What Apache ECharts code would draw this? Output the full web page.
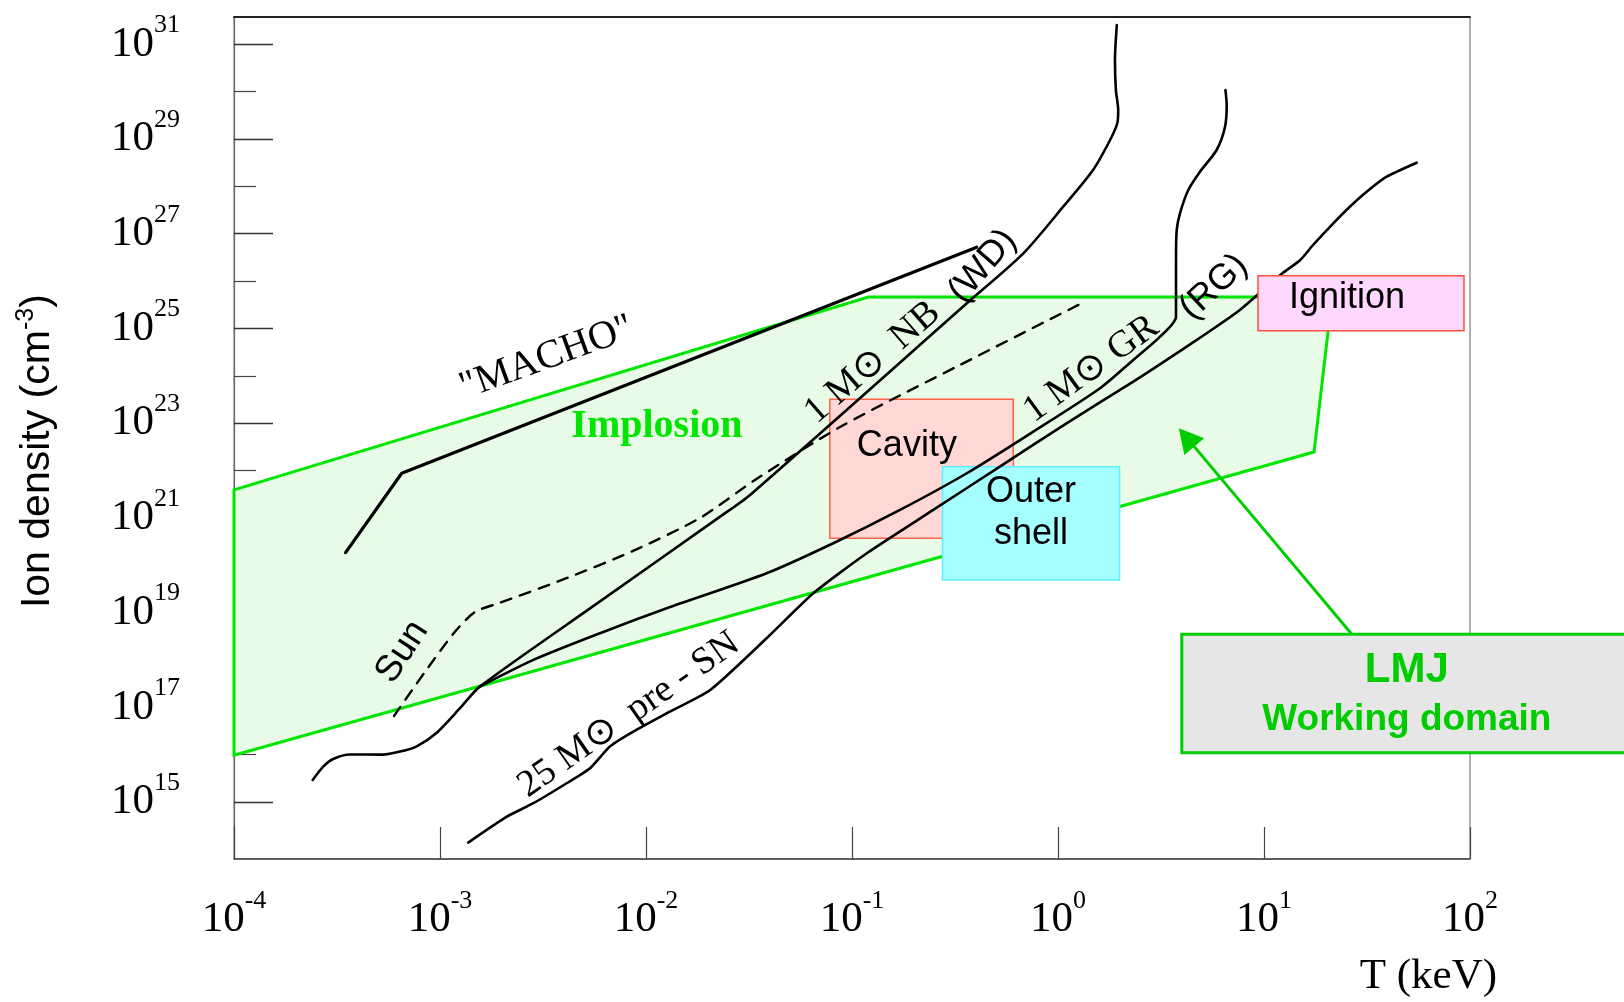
<!DOCTYPE html>
<html>
<head>
<meta charset="utf-8">
<script src="https://cdn.jsdelivr.net/npm/echarts@6.0.0/dist/echarts.min.js"></script>
<style>
html, body { margin: 0; padding: 0; background: #fff; }
#chart { width: 1624px; height: 1002px; }
</style>
</head>
<body>
<div id="chart"></div>
<script>
// ---- data: [T (keV), ion density (cm^-3)] ----
const machoCurve = [[3.48e-4, 1.84e20], [6.52e-4, 8.75e21], [0.403, 5.18e26]];

const implosionDomain = [[1e-4, 3.9e21], [0.12, 4.6e25], [21.4, 4.6e25], [17.5, 2.46e22], [1e-4, 9.7e15]];

const sunCurve = [
  [5.98e-4, 6.56e16], [8.45e-4, 5.57e17], [1.18e-3, 3.9e18], [1.48e-3, 1.03e19],
  [1.95e-3, 1.6e19], [4.14e-3, 5.38e19], [8.65e-3, 2.0e20], [1.83e-2, 9.95e20],
  [3.38e-2, 6.31e21], [8.75e-2, 8.3e22], [0.334, 1.69e24], [1.35, 3.67e25]
];

const wdCurve = [
  [2.41e-4, 2.92e15], [2.71e-4, 5.58e15], [3.03e-4, 8.11e15], [3.66e-4, 1.01e16],
  [5.29e-4, 1.0e16], [6.40e-4, 1.16e16], [7.71e-4, 1.5e16], [9.64e-4, 2.91e16],
  [1.25e-3, 9.55e16], [1.56e-3, 2.73e17], [5.98e-3, 1.72e19], [2.29e-2, 1.06e21],
  [3.2e-2, 3.05e21], [0.361, 3.4e25], [0.679, 3.86e26], [1.06, 3.72e27],
  [1.48, 2.22e28], [1.79, 9.53e28], [1.94, 2.15e29], [1.96, 4.1e29],
  [1.91, 1.08e30], [1.89, 4.66e30], [1.93, 2.56e31]
];

const grCurve = [
  [1.56e-3, 2.73e17], [2.84e-3, 1.0e18], [5.98e-3, 3.66e18], [1.26e-2, 1.23e19],
  [3.85e-2, 6.76e19], [8.11e-2, 2.91e20], [0.171, 1.47e21], [0.361, 8.75e21],
  [0.759, 6.61e22], [1.6, 5.45e23], [2.32, 2.16e24], [3.13, 6.7e24],
  [3.74, 1.77e25], [3.74, 2.79e26], [3.77, 1.2e27], [3.91, 2.7e27],
  [4.29, 8.39e27], [4.89, 2.04e28], [5.89, 5.86e28], [6.47, 1.82e29],
  [6.59, 5.22e29], [6.5, 1.08e30]
];

const preSnCurve = [
  [1.37e-3, 1.39e14], [2.11e-3, 4.91e14], [2.84e-3, 9.42e14], [4.12e-3, 2.49e15],
  [5.35e-3, 5.16e15], [6.68e-3, 1.48e16], [8.67e-3, 3.06e16], [1.26e-2, 7.48e16],
  [2.05e-2, 2.32e17], [3.85e-2, 2.87e18], [6.49e-2, 2.56e19], [0.118, 1.79e20],
  [0.248, 1.47e21], [0.522, 1.21e22], [1.1, 9.93e22], [2.32, 7.52e23],
  [3.37, 2.16e24], [5.27, 7.91e24], [7.64, 2.45e25], [12.0, 1.35e26],
  [15.0, 2.79e26], [17.3, 5.78e26], [21.7, 1.66e27], [26.1, 3.72e27],
  [31.5, 7.72e27], [39.4, 1.6e28], [55.1, 3.16e28]
];

// experimental regions: T range (keV), density range (cm^-3)
const regionNames = ['Cavity', 'Outer\nshell', 'Ignition'];
const regionT = [[0.078, 0.607], [0.275, 1.99], [9.35, 93.5]];
const regionN = [[3.7e20, 3.19e23], [4.9e19, 1.2e22], [8.97e24, 1.3e26]];

// LMJ call-out box and its pointer
const lmjTitle = 'LMJ';
const lmjSubtitle = 'Working domain';
const lmjBoxT = [3.99, 611];
const lmjBoxN = [1.1e16, 3.48e18];
const arrowFrom = [26.7, 3.48e18];
const arrowTo = [3.86, 7.8e22];

// curve captions and where they sit
const labelTexts = ['"MACHO"', 'Implosion', '1 M\u2299  NB', '(WD)', '1 M\u2299 GR', '(RG)', '25 M\u2299  pre - SN', 'Sun'];
const labelAnchors = [
  [3.3e-3, 2.38e24], [1.13e-2, 8.3e22], [0.126, 1.91e24], [0.431, 2.08e26],
  [1.45, 1.39e24], [5.71, 7.5e25], [8.26e-3, 6.89e16], [6.55e-4, 1.48e18]
];

// tick labels (powers of ten)
const xTickExponents = [-4, -3, -2, -1, 0, 1, 2];
const yTickExponents = [15, 17, 19, 21, 23, 25, 27, 29, 31];

// ---- layout & styles ----
const SERIF = '"Liberation Serif", "Times New Roman", serif';
const SANS = '"Liberation Sans", Arial, sans-serif';
const frame = { left: 234, right: 1470, top: 17, bottom: 859 };
const tickTop = 44.3;     // pixel row of 10^31
const tickBottom = 802;   // pixel row of 10^15
const decadePx = (tickBottom - tickTop) / 16;
const yMaxExp = 31 + (tickTop - frame.top) / decadePx;
const yMinExp = 15 - (frame.bottom - tickBottom) / decadePx;

const labelLook = [
  { family: SERIF, size: 40, weight: 'normal', angle: 20, color: '#000' },
  { family: SERIF, size: 40, weight: 'bold', angle: 0, color: '#00e600' },
  { family: SERIF, size: 38, weight: 'normal', angle: 41, color: '#000' },
  { family: SANS, size: 36, weight: 'normal', angle: 49, color: '#000' },
  { family: SERIF, size: 38, weight: 'normal', angle: 36, color: '#000' },
  { family: SANS, size: 36, weight: 'normal', angle: 43, color: '#000' },
  { family: SERIF, size: 38, weight: 'normal', angle: 35, color: '#000' },
  { family: SANS, size: 37, weight: 'normal', angle: 57, color: '#000' }
];

const regionLook = [
  { fill: '#ffd7d5', stroke: '#ff6347', tx: 0.42, ty: 47 },
  { fill: '#a6ffff', stroke: '#5ef0ff', tx: 0.5, ty: 46.5 },
  { fill: '#fdd7fd', stroke: '#ff5040', tx: 0.432, ty: 22 }
];

const powLabel = e => '{b|10}{s|' + e + '}';
const tickRich = {
  b: { fontFamily: SERIF, fontSize: 43, lineHeight: 64, color: '#000' },
  s: { fontFamily: SERIF, fontSize: 26, lineHeight: 26, verticalAlign: 'top', color: '#000' }
};

function rectOf(api, tRange, nRange) {
  const p0 = api.coord([tRange[0], nRange[1]]);
  const p1 = api.coord([tRange[1], nRange[0]]);
  return { x: p0[0], y: p0[1], width: p1[0] - p0[0], height: p1[1] - p0[1] };
}

function regionSeries(indices, z) {
  return {
    type: 'custom', coordinateSystem: 'cartesian2d', xAxisIndex: 0, yAxisIndex: 0,
    z: z, clip: false, silent: true,
    data: indices.map(i => [regionT[i][0], regionN[i][0]]),
    renderItem: (params, api) => {
      const i = indices[params.dataIndex];
      const look = regionLook[i];
      const r = rectOf(api, regionT[i], regionN[i]);
      return {
        type: 'group',
        children: [
          { type: 'rect', shape: r, style: { fill: look.fill, stroke: look.stroke, lineWidth: 1.5 } },
          {
            type: 'text', x: r.x + r.width * look.tx, y: r.y + look.ty,
            style: {
              text: regionNames[i], fontFamily: SANS, fontSize: 36, lineHeight: 42,
              fill: '#000', align: 'center', verticalAlign: 'middle'
            }
          }
        ]
      };
    }
  };
}

function curve(data, width, dashed, smooth) {
  return {
    type: 'line', xAxisIndex: 0, yAxisIndex: 0, z: 3, data: data,
    showSymbol: false, symbol: 'none', smooth: smooth, silent: true,
    lineStyle: { color: '#000', width: width, type: dashed ? [11, 9] : 'solid', cap: 'round', join: 'round' }
  };
}

const chart = echarts.init(document.getElementById('chart'), null, { renderer: 'canvas' });

chart.setOption({
  animation: false,
  backgroundColor: '#fff',
  grid: [
    {
      left: frame.left, top: frame.top, right: 1624 - frame.right, bottom: 1002 - frame.bottom,
      show: true, borderColor: '#666', borderWidth: 1, containLabel: false, outerBoundsMode: 'none'
    },
    {
      left: frame.left, top: tickTop, right: 1624 - frame.right, bottom: 1002 - tickBottom,
      show: false, containLabel: false, outerBoundsMode: 'none'
    }
  ],
  xAxis: [
    {
      type: 'log', gridIndex: 0, logBase: 10, min: 1e-4, max: 100, splitNumber: 6,
      axisLine: { show: true, onZero: false, lineStyle: { color: '#444', width: 1.5 } },
      axisTick: { show: true, inside: true, length: 32, lineStyle: { color: '#444', width: 1.2 } },
      axisLabel: {
        show: true, margin: 29, showMinLabel: true, showMaxLabel: true,
        formatter: v => {
          const e = Math.round(Math.log10(v));
          return xTickExponents.includes(e) ? powLabel(e) : '';
        },
        rich: tickRich
      },
      splitLine: { show: false },
      name: 'T (keV)', nameLocation: 'end', nameGap: 27,
      nameTextStyle: {
        fontFamily: SERIF, fontSize: 43, color: '#000',
        align: 'right', verticalAlign: 'top', padding: [96, 0, 0, 0]
      }
    },
    {
      type: 'value', gridIndex: 1, min: 0, max: 1, show: false
    },
    {
      type: 'log', gridIndex: 0, logBase: 10, min: 1e-4, max: 100, position: 'top',
      axisLine: { show: true, onZero: false, lineStyle: { color: '#222', width: 2 } },
      axisTick: { show: false }, axisLabel: { show: false }, splitLine: { show: false }
    }
  ],
  yAxis: [
    {
      type: 'log', gridIndex: 0, logBase: 10, min: Math.pow(10, yMinExp), max: Math.pow(10, yMaxExp),
      axisLine: { show: true, onZero: false, lineStyle: { color: '#666', width: 1.2 } },
      axisTick: { show: false }, axisLabel: { show: false }, splitLine: { show: false }
    },
    {
      type: 'value', gridIndex: 1, min: 15, max: 31, interval: 2,
      axisLine: { show: false },
      axisTick: { show: true, inside: true, length: 39, lineStyle: { color: '#333', width: 1.3 } },
      minorTick: { show: true, splitNumber: 2, length: 22, lineStyle: { color: '#444', width: 1.2 } },
      axisLabel: {
        show: true, margin: 54, showMinLabel: true, showMaxLabel: true,
        formatter: v => yTickExponents.includes(v) ? powLabel(v) : '',
        rich: tickRich
      },
      splitLine: { show: false },
      name: '{a|Ion density (cm}{s|-3}{a|)}', nameLocation: 'middle', nameGap: 172, nameRotate: 90,
      nameTextStyle: {
        padding: [0, 56, 0, 0],
        rich: {
          a: { fontFamily: SANS, fontSize: 41, lineHeight: 48, color: '#000' },
          s: { fontFamily: SANS, fontSize: 25, lineHeight: 24, verticalAlign: 'top', color: '#000' }
        }
      }
    }
  ],
  series: [
    // implosion domain
    {
      type: 'custom', coordinateSystem: 'cartesian2d', xAxisIndex: 0, yAxisIndex: 0,
      z: 1, clip: false, silent: true, data: [implosionDomain[0]],
      renderItem: (params, api) => ({
        type: 'polygon',
        shape: { points: implosionDomain.map(p => api.coord(p)) },
        style: { fill: '#e7fbe7', stroke: '#00e600', lineWidth: 3, lineJoin: 'miter' }
      })
    },
    regionSeries([0, 1], 2),
    curve(machoCurve, 3.2, false, false),
    curve(sunCurve, 2.4, true, 0.25),
    curve(wdCurve, 2.6, false, 0.25),
    curve(grCurve, 2.6, false, 0.25),
    curve(preSnCurve, 2.6, false, 0.2),
    regionSeries([2], 4),
    // curve captions
    {
      type: 'custom', coordinateSystem: 'cartesian2d', xAxisIndex: 0, yAxisIndex: 0,
      z: 5, clip: false, silent: true, data: labelAnchors,
      renderItem: (params, api) => {
        const i = params.dataIndex;
        const p = api.coord(labelAnchors[i]);
        const look = labelLook[i];
        return {
          type: 'text', x: p[0], y: p[1], rotation: look.angle * Math.PI / 180,
          style: {
            text: labelTexts[i], fontFamily: look.family, fontSize: look.size,
            fontWeight: look.weight, fill: look.color, align: 'center', verticalAlign: 'middle'
          }
        };
      }
    },
    // LMJ call-out with arrow
    {
      type: 'custom', coordinateSystem: 'cartesian2d', xAxisIndex: 0, yAxisIndex: 0,
      z: 6, clip: false, silent: true, data: [[lmjBoxT[0], lmjBoxN[0]]],
      renderItem: (params, api) => {
        const r = rectOf(api, lmjBoxT, lmjBoxN);
        const cx = r.x + r.width / 2;
        const cy = r.y + r.height / 2;
        const a = api.coord(arrowFrom);
        const b = api.coord(arrowTo);
        const dx = b[0] - a[0], dy = b[1] - a[1];
        const len = Math.sqrt(dx * dx + dy * dy);
        const ux = dx / len, uy = dy / len;
        const headLen = 24, headHalf = 13;
        const bx = b[0] - ux * headLen, by = b[1] - uy * headLen;
        return {
          type: 'group',
          children: [
            { type: 'line', shape: { x1: a[0], y1: a[1], x2: bx, y2: by },
              style: { stroke: '#00cc00', lineWidth: 3 } },
            { type: 'polygon',
              shape: { points: [[b[0], b[1]], [bx - uy * headHalf, by + ux * headHalf], [bx + uy * headHalf, by - ux * headHalf]] },
              style: { fill: '#00cc00' } },
            { type: 'rect', shape: r, style: { fill: '#e6e6e6', stroke: '#00cc00', lineWidth: 3 } },
            { type: 'text', x: cx, y: cy - 23,
              style: { text: lmjTitle, fontFamily: SANS, fontSize: 42, fontWeight: 'bold', fill: '#00cc00', align: 'center', verticalAlign: 'middle' } },
            { type: 'text', x: cx, y: cy + 26,
              style: { text: lmjSubtitle, fontFamily: SANS, fontSize: 37, fontWeight: 'bold', fill: '#00cc00', align: 'center', verticalAlign: 'middle' } }
          ]
        };
      }
    }
  ]
});
</script>
</body>
</html>
